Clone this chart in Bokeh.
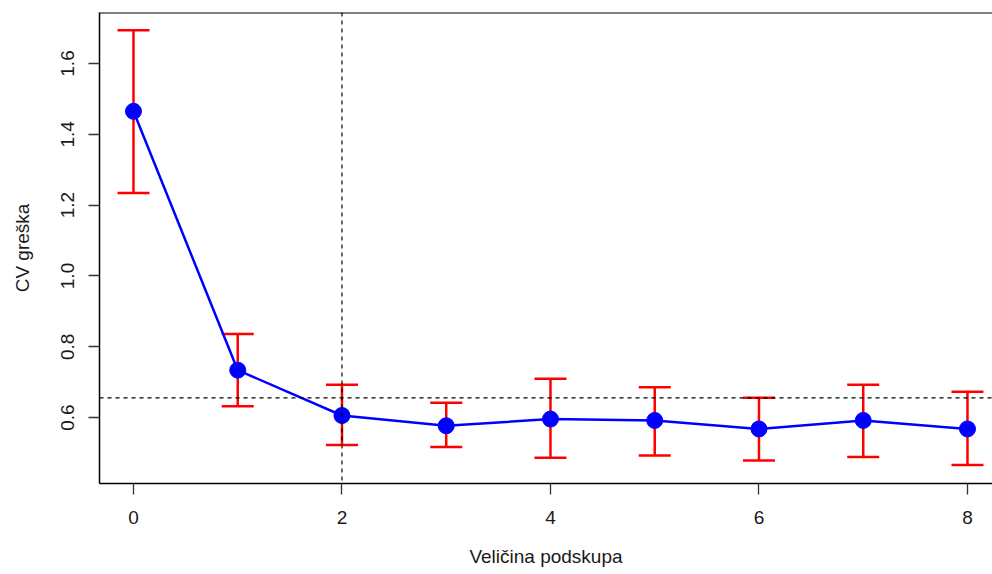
from bokeh.plotting import figure
from bokeh.models import Span, Whisker, TeeHead, ColumnDataSource, FixedTicker
from bokeh.embed import file_html
from bokeh.resources import INLINE

# data
subset_size = [0, 1, 2, 3, 4, 5, 6, 7, 8]
cv_error = [1.465, 0.734, 0.606, 0.577, 0.596, 0.592, 0.568, 0.592, 0.568]
cv_upper = [1.694, 0.836, 0.693, 0.642, 0.710, 0.686, 0.656, 0.693, 0.673]
cv_lower = [1.234, 0.632, 0.523, 0.517, 0.487, 0.493, 0.479, 0.489, 0.466]
best_size = 2
threshold = 0.656
x_ticks = [0, 2, 4, 6, 8]
y_ticks = [0.6, 0.8, 1.0, 1.2, 1.4, 1.6]
x_title = "Veličina podskupa"
y_title = "CV greška"

FONT = "Liberation Sans"
FS = "19px"

src = ColumnDataSource(dict(x=subset_size, y=cv_error, up=cv_upper, lo=cv_lower))

y_lo, y_hi = 0.414, 1.744
p = figure(width=992, height=574, output_backend="svg", toolbar_location=None,
           x_range=(-0.326, 8.24), y_range=(y_lo, y_hi),
           min_border_left=99, min_border_right=0, min_border_top=12, min_border_bottom=91)
p.grid.visible = False
p.outline_line_color = None
p.background_fill_color = "white"
p.border_fill_color = "white"

p.line("x", "y", source=src, line_color="#0000FF", line_width=2.5)
p.scatter("x", "y", source=src, size=16, fill_color="#0000FF", line_color="#0000FF")
w = Whisker(source=src, base="x", upper="up", lower="lo", line_color="#FF0000", line_width=2.5,
            upper_head=TeeHead(size=32, line_color="#FF0000", line_width=2.5),
            lower_head=TeeHead(size=32, line_color="#FF0000", line_width=2.5))
p.add_layout(w)

p.add_layout(Span(location=best_size, dimension="height", line_color="black",
                  line_dash="4 4", line_width=1.2))
p.add_layout(Span(location=threshold, dimension="width", line_color="black",
                  line_dash="4 4", line_width=1.2))
# top border of the box
p.add_layout(Span(location=y_hi, dimension="width", line_color="black", line_width=2))

for ax in (p.xaxis[0], p.yaxis[0]):
    ax.axis_line_color = "black"
    ax.axis_line_width = 1.5
    ax.major_tick_line_color = "#333333"
    ax.major_tick_line_width = 1.3
    ax.major_tick_out = 11
    ax.major_tick_in = 0
    ax.minor_tick_line_color = None
    ax.major_label_text_font = FONT
    ax.major_label_text_font_size = FS
    ax.major_label_text_color = "#1a1a1a"
    ax.axis_label_text_font = FONT
    ax.axis_label_text_font_size = FS
    ax.axis_label_text_font_style = "normal"
    ax.axis_label_text_color = "#1a1a1a"

p.xaxis.ticker = FixedTicker(ticks=x_ticks)
p.yaxis.ticker = FixedTicker(ticks=y_ticks)
p.xaxis.major_label_overrides = {t: str(t) for t in x_ticks}
p.yaxis.major_label_overrides = {t: f"{t:.1f}" for t in y_ticks}
p.yaxis.major_label_orientation = "vertical"
p.xaxis.axis_label = x_title
p.yaxis.axis_label = y_title
p.xaxis.major_label_standoff = 16
p.xaxis.axis_label_standoff = 19
p.yaxis.major_label_standoff = 14
p.yaxis.axis_label_standoff = 26

open("out.html", "w").write(file_html(p, INLINE))
